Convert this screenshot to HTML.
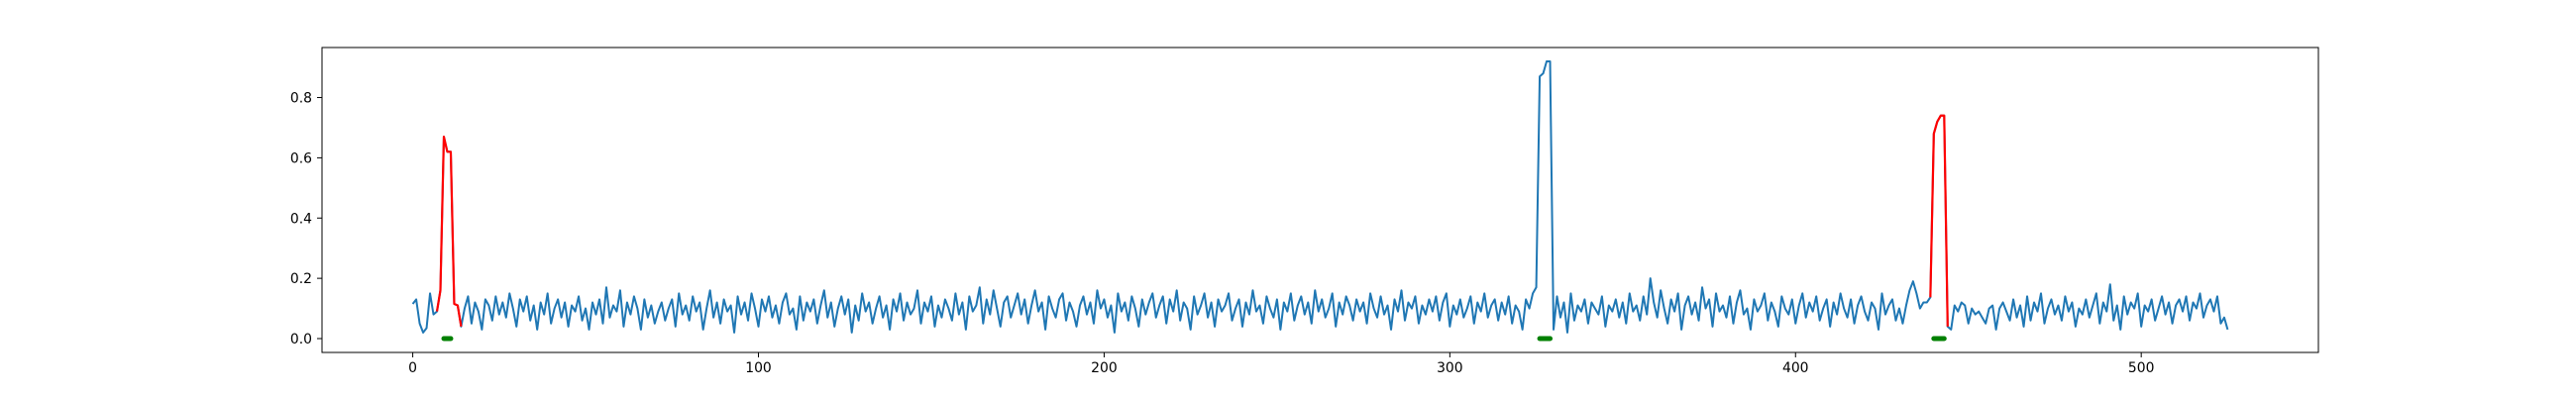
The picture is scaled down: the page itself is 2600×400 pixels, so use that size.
<!DOCTYPE html>
<html><head><meta charset="utf-8"><style>
html,body{margin:0;padding:0;background:#fff;}
svg{display:block;font-family:"DejaVu Sans","Liberation Sans",sans-serif;}
</style></head><body>
<svg id="chart" width="2600" height="400" xmlns="http://www.w3.org/2000/svg">
<rect width="2600" height="400" fill="#fff"/>
<g id="plot"></g>
<rect x="325" y="48" width="2015" height="308" fill="none" stroke="#000" stroke-width="1"/>
<g id="axes"></g>
</svg>
<script>
const seg1 = [.115,.13,.05,.02,.035,.15,.08];
const spike1 = [.09,.16,.67,.62,.62,.115,.11,.04];
const seg2 = [
.10,.14,.05,.12,.09,.03,.13,.11,.06,.14,.08,.12,.07,.15,.10,.04,.13,.09,.14,.06,
.11,.03,.12,.08,.15,.05,.10,.13,.07,.12,.04,.11,.09,.14,.06,.10,.03,.12,.08,.13,
.05,.17,.07,.11,.09,.16,.04,.12,.08,.14,.10,.03,.13,.07,.11,.05,.09,.12,.06,.10,
.13,.04,.15,.08,.11,.06,.14,.09,.12,.03,.10,.16,.07,.12,.05,.13,.09,.11,.02,.14,
.08,.12,.06,.15,.10,.04,.13,.09,.14,.07,.11,.05,.12,.15,.08,.10,.03,.14,.06,.12,
.09,.13,.05,.11,.16,.07,.12,.04,.10,.14,.08,.13,.02,.11,.06,.15,.09,.12,.05,.10,
.14,.07,.11,.03,.13,.09,.15,.06,.12,.08,.10,.16,.05,.12,.09,.14,.04,.11,.07,.13,
.10,.06,.15,.08,.12,.03,.14,.09,.11,.17,.05,.13,.08,.16,.10,.04,.12,.14,.07,.11,
.15,.08,.13,.05,.11,.16,.09,.12,.03,.14,.10,.07,.13,.15,.06,.12,.09,.04,.11,.14,
.08,.12,.05,.16,.10,.13,.07,.11,.02,.15,.09,.12,.06,.14,.10,.04,.13,.08,.12,.15,
.07,.11,.14,.05,.13,.09,.16,.06,.12,.10,.03,.14,.08,.11,.15,.07,.12,.04,.13,.09,
.11,.15,.06,.10,.13,.04,.12,.08,.16,.09,.11,.05,.14,.10,.07,.13,.03,.12,.09,.15,
.06,.11,.14,.08,.12,.05,.16,.09,.13,.07,.10,.15,.04,.12,.08,.14,.11,.06,.13,.09,
.12,.05,.15,.10,.07,.14,.08,.11,.03,.13,.09,.16,.06,.12,.10,.14,.05,.11,.08,.13,
.09,.14,.06,.12,.15,.04,.11,.08,.13,.07,.10,.14,.05,.12,.09,.15,.07,.11,.13,.06,
.12,.08,.14,.05,.11,.09,.03,.13,.10,.15,.17];
const spike2 = [.87,.88,.92,.92];
const seg3 = [
.03,.14,.07,.12,.02,.15,.06,.11,.09,.13,.05,.12,.10,.08,.14,.04,.11,.09,.13,.07,
.12,.05,.15,.09,.11,.06,.14,.08,.20,.12,.07,.16,.10,.05,.13,.09,.15,.03,.11,.14,
.08,.12,.06,.17,.10,.13,.04,.15,.09,.11,.07,.14,.05,.12,.16,.08,.10,.03,.13,.09,
.11,.15,.06,.12,.09,.04,.14,.10,.08,.13,.05,.11,.15,.07,.12,.09,.14,.06,.10,.13,
.04,.12,.08,.15,.10,.07,.13,.05,.11,.14,.09,.06,.12,.10,.03,.15,.08,.11,.13,.06,
.10,.05,.11,.16,.19,.15,.10,.12,.12];
const spike3 = [.137,.68,.72,.74,.74,.04];
const seg4 = [
.03,.11,.09,.12,.11,.05,.10,.08,.09,.07,.05,.10,.11,.03,.10,.12,.09,.06,.13,.07,
.11,.04,.14,.06,.12,.09,.15,.05,.10,.13,.08,.11,.06,.14,.09,.12,.04,.10,.08,.13,
.07,.11,.15,.05,.12,.09,.18,.06,.11,.03,.14,.08,.12,.10,.15,.04,.11,.09,.13,.06,
.10,.14,.08,.12,.05,.11,.13,.09,.14,.06,.12,.10,.15,.07,.11,.13,.09,.14,.05,.07,
.03];
const values = [].concat(seg1, spike1, seg2, spike2, seg3, spike3, seg4);
const redStarts = [7, 439];
const redEnds = [14, 444];
const greenStarts = [9, 326, 440];
const greenEnds = [11, 329, 443];
const xTicks = [0,100,200,300,400,500];
const yTicks = [0.0,0.2,0.4,0.6,0.8];
const yTickLabels = ["0.0","0.2","0.4","0.6","0.8"];

const NS = "http://www.w3.org/2000/svg";
const L = 325, R = 2340, T = 48, B = 356;
const n = values.length;
const xmin = -0.05*(n-1), xmax = (n-1)*1.05;
let vmax = Math.max(...values), vmin = Math.min(0, Math.min(...values));
const ymin = vmin - 0.05*(vmax-vmin), ymax = vmax + 0.05*(vmax-vmin);
const xs = i => L + (i - xmin)/(xmax - xmin)*(R-L);
const ys = v => B - (v - ymin)/(ymax - ymin)*(B-T);
const plot = document.getElementById('plot');
const axes = document.getElementById('axes');
function mk(tag, attrs, parent){ const e=document.createElementNS(NS,tag); for(const k in attrs) e.setAttribute(k,attrs[k]); parent.appendChild(e); return e; }
function pts(a,b){ let s=[]; for(let i=a;i<=b;i++) s.push(xs(i).toFixed(2)+','+ys(values[i]).toFixed(2)); return s.join(' '); }

const blue = mk('polyline',{points:pts(0,n-1),fill:'none',stroke:'#1f77b4','stroke-width':2,'stroke-linejoin':'round'},plot);


for(let k=0;k<redStarts.length;k++){
  const r = mk('polyline',{points:pts(redStarts[k],redEnds[k]),fill:'none',stroke:'#ff0000','stroke-width':2.2,'stroke-linejoin':'round'},plot);
  
  
}
for(let k=0;k<greenStarts.length;k++){
  const g = mk('line',{x1:xs(greenStarts[k]),x2:xs(greenEnds[k]),y1:ys(0),y2:ys(0),stroke:'#008000','stroke-width':5,'stroke-linecap':'round'},plot);
  
  
}
xTicks.forEach(t=>{
  const x = xs(t);
  const tk = mk('line',{x1:x,x2:x,y1:B,y2:B+5,stroke:'#000','stroke-width':1},axes);
  
  
  const tx = mk('text',{x:x,y:B+20,'text-anchor':'middle','font-size':'13.9px',fill:'#000'},axes);
  tx.textContent = String(t);
  
  
});
yTicks.forEach((t,i)=>{
  const y = ys(t);
  const tk = mk('line',{x1:L-5,x2:L,y1:y,y2:y,stroke:'#000','stroke-width':1},axes);
  
  
  const tx = mk('text',{x:L-10,y:y+5,'text-anchor':'end','font-size':'13.9px',fill:'#000'},axes);
  tx.textContent = yTickLabels[i];
  
  
});
</script>
</body></html>
